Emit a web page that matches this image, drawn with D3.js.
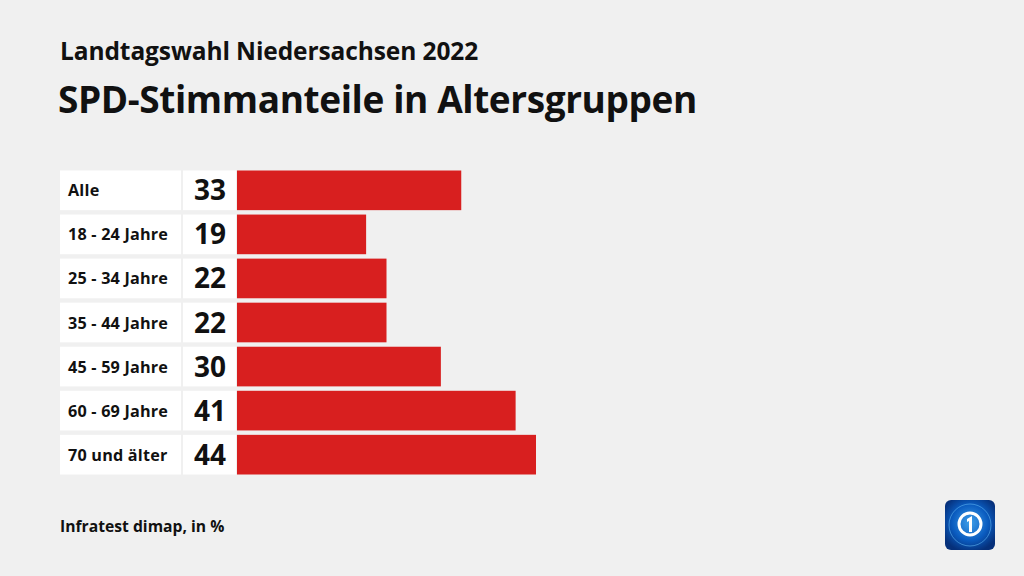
<!DOCTYPE html>
<html><head><meta charset="utf-8">
<script src="https://cdn.jsdelivr.net/npm/d3@7"></script>
<style>
html,body{margin:0;padding:0;background:#f0f0f0;}
svg{display:block;font-family:"Open Sans","Noto Sans",sans-serif;}
</style></head>
<body>
<svg id="c" width="1024" height="576"></svg>
<script>
const categories = ["Alle","18 - 24 Jahre","25 - 34 Jahre","35 - 44 Jahre","45 - 59 Jahre","60 - 69 Jahre","70 und älter"];
const values = [33,19,22,22,30,41,44];
const title = "SPD-Stimmanteile in Altersgruppen";
const subtitle = "Landtagswahl Niedersachsen 2022";
const source = "Infratest dimap, in %";

const svg = d3.select("#c");
svg.append("rect").attr("width",1024).attr("height",576).attr("fill","#f0f0f0");

svg.append("text").attr("x",60).attr("y",60).attr("font-size",24.5).attr("font-weight",700).attr("fill","#111").attr("letter-spacing",-0.1).text(subtitle);
svg.append("text").attr("x",58).attr("y",113).attr("font-size",37).attr("font-weight",700).attr("fill","#111").attr("letter-spacing",-0.4).text(title);

const y = d3.scaleBand().domain(categories).range([170.5, 474.5]).paddingInner(0.1).paddingOuter(0);
const x = d3.scaleLinear().domain([0,44]).range([237, 536]);

const g = svg.append("g");
const rows = g.selectAll("g.row").data(categories.map((c,i)=>({c,v:values[i]}))).join("g");
rows.append("rect").attr("x",60).attr("width",121).attr("y",d=>y(d.c)).attr("height",y.bandwidth()).attr("fill","#fff");
rows.append("rect").attr("x",183).attr("width",53).attr("y",d=>y(d.c)).attr("height",y.bandwidth()).attr("fill","#fff");
rows.append("rect").attr("x",x(0)).attr("width",d=>x(d.v)-x(0)).attr("y",d=>y(d.c)).attr("height",y.bandwidth()).attr("fill","#d81f1f");
rows.append("text").attr("x",68).attr("y",d=>y(d.c)+y.bandwidth()/2+6).attr("font-size",16.2).attr("font-weight",700).attr("fill","#111").attr("letter-spacing",0.2).text(d=>d.c);
rows.append("text").attr("x",226).attr("y",d=>y(d.c)+y.bandwidth()/2+10).attr("text-anchor","end").attr("font-size",28).attr("font-weight",700).attr("fill","#111").text(d=>d.v);

svg.append("text").attr("x",60).attr("y",532).attr("font-size",15.7).attr("font-weight",700).attr("fill","#111").text(source);

// logo
const defs = svg.append("defs");
const rg = defs.append("radialGradient").attr("id","lg").attr("cx","0.5").attr("cy","0.45").attr("r","0.6");
rg.append("stop").attr("offset","0").attr("stop-color","#3fa0ea");
rg.append("stop").attr("offset","0.6").attr("stop-color","#0a5bbf");
rg.append("stop").attr("offset","1").attr("stop-color","#06307a");
const logo = svg.append("g").attr("transform","translate(945,500)");
logo.append("rect").attr("width",50).attr("height",50).attr("rx",6).attr("fill","url(#lg)");
logo.append("ellipse").attr("cx",25).attr("cy",25).attr("rx",21).attr("ry",21).attr("fill","none").attr("stroke","#5fb4f0").attr("stroke-width",1).attr("opacity",0.6);
logo.append("circle").attr("cx",25).attr("cy",24).attr("r",11).attr("fill","none").attr("stroke","#fff").attr("stroke-width",3);
logo.append("path").attr("d","M22,19 L27,16 L27,32 L24,32 L24,21 L22,22 Z").attr("fill","#fff");
</script>
</body></html>
